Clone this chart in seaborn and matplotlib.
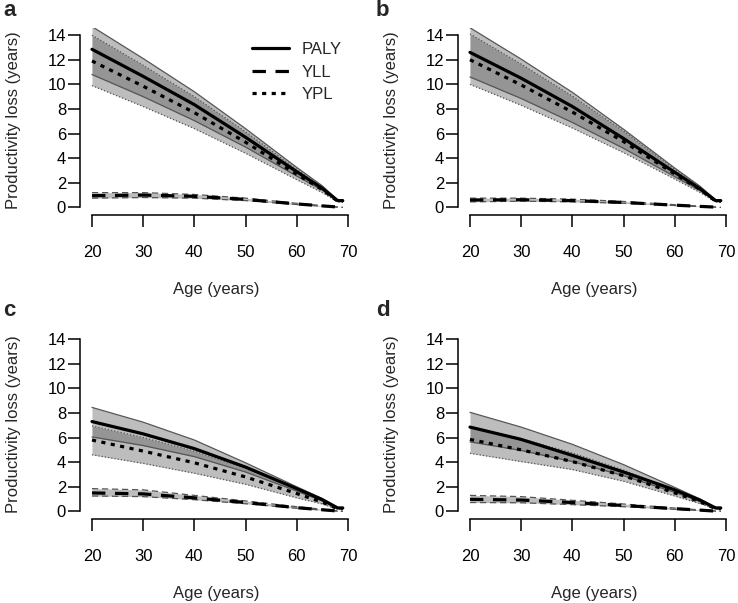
"""
Productivity loss (PALY / YLL / YPL) by age, four panels a-d.
Lines = central estimate, grey bands = uncertainty interval.
"""

import matplotlib
matplotlib.use("Agg")
import matplotlib.pyplot as plt
from matplotlib.lines import Line2D
import pandas as pd
import seaborn as sns


AGES = [20, 30, 40, 50, 60, 65, 68, 69]
MEASURES = ["PALY", "YLL", "YPL"]
PANELS = ["a", "b", "c", "d"]
Y_TICKS = [0, 2, 4, 6, 8, 10, 12, 14]
X_TICKS = [20, 30, 40, 50, 60, 70]

# panel a
a_paly = [12.85, 10.65, 8.35, 5.7, 2.9, 1.55, 0.55, 0.55]
a_paly_lo = [10.8, 9.0, 7.05, 4.9, 2.55, 1.4, 0.5, 0.5]
a_paly_hi = [14.7, 12.1, 9.4, 6.4, 3.25, 1.75, 0.6, 0.6]
a_ypl = [11.9, 9.85, 7.7, 5.3, 2.7, 1.45, 0.5, 0.5]
a_ypl_lo = [9.9, 8.2, 6.4, 4.4, 2.25, 1.2, 0.45, 0.45]
a_ypl_hi = [14.0, 11.55, 9.0, 6.15, 3.1, 1.65, 0.55, 0.55]
a_yll = [0.95, 1.0, 0.9, 0.65, 0.28, 0.12, 0.03, 0.0]
a_yll_lo = [0.75, 0.8, 0.75, 0.55, 0.23, 0.09, 0.02, 0.0]
a_yll_hi = [1.2, 1.2, 1.05, 0.75, 0.33, 0.15, 0.04, 0.0]

# panel b
b_paly = [12.6, 10.5, 8.2, 5.6, 2.85, 1.5, 0.55, 0.55]
b_paly_lo = [10.6, 8.85, 6.9, 4.8, 2.5, 1.35, 0.5, 0.5]
b_paly_hi = [14.6, 12.05, 9.35, 6.35, 3.2, 1.7, 0.6, 0.6]
b_ypl = [12.0, 9.95, 7.75, 5.35, 2.72, 1.45, 0.5, 0.5]
b_ypl_lo = [10.0, 8.3, 6.45, 4.45, 2.3, 1.2, 0.45, 0.45]
b_ypl_hi = [14.1, 11.65, 9.05, 6.2, 3.1, 1.65, 0.55, 0.55]
b_yll = [0.6, 0.62, 0.55, 0.4, 0.18, 0.08, 0.02, 0.0]
b_yll_lo = [0.45, 0.5, 0.45, 0.33, 0.15, 0.06, 0.02, 0.0]
b_yll_hi = [0.75, 0.75, 0.67, 0.48, 0.22, 0.1, 0.03, 0.0]

# panel c
c_paly = [7.3, 6.3, 5.1, 3.6, 1.85, 0.95, 0.28, 0.28]
c_paly_lo = [6.05, 5.35, 4.45, 3.2, 1.65, 0.85, 0.25, 0.25]
c_paly_hi = [8.45, 7.25, 5.8, 3.95, 2.0, 1.05, 0.3, 0.3]
c_ypl = [5.8, 4.9, 3.95, 2.8, 1.45, 0.75, 0.22, 0.22]
c_ypl_lo = [4.6, 3.9, 3.1, 2.2, 1.1, 0.6, 0.18, 0.18]
c_ypl_hi = [6.95, 6.0, 4.9, 3.5, 1.8, 0.92, 0.27, 0.27]
c_yll = [1.5, 1.42, 1.1, 0.72, 0.3, 0.13, 0.03, 0.0]
c_yll_lo = [1.25, 1.2, 0.95, 0.62, 0.25, 0.1, 0.02, 0.0]
c_yll_hi = [1.85, 1.75, 1.3, 0.85, 0.38, 0.17, 0.04, 0.0]

# panel d
d_paly = [6.85, 5.85, 4.55, 3.2, 1.75, 0.9, 0.28, 0.28]
d_paly_lo = [5.65, 4.95, 4.05, 2.9, 1.55, 0.8, 0.25, 0.25]
d_paly_hi = [8.05, 6.85, 5.45, 3.8, 1.95, 1.0, 0.3, 0.3]
d_ypl = [5.85, 5.0, 4.05, 2.9, 1.5, 0.78, 0.22, 0.22]
d_ypl_lo = [4.72, 4.05, 3.4, 2.45, 1.25, 0.62, 0.18, 0.18]
d_ypl_hi = [6.9, 5.9, 4.75, 3.35, 1.75, 0.9, 0.27, 0.27]
d_yll = [0.98, 0.92, 0.72, 0.48, 0.22, 0.1, 0.02, 0.0]
d_yll_lo = [0.72, 0.7, 0.55, 0.38, 0.17, 0.07, 0.02, 0.0]
d_yll_hi = [1.3, 1.2, 0.9, 0.6, 0.27, 0.12, 0.03, 0.0]

SERIES = {
    "a": {"PALY": (a_paly, a_paly_lo, a_paly_hi), "YLL": (a_yll, a_yll_lo, a_yll_hi), "YPL": (a_ypl, a_ypl_lo, a_ypl_hi)},
    "b": {"PALY": (b_paly, b_paly_lo, b_paly_hi), "YLL": (b_yll, b_yll_lo, b_yll_hi), "YPL": (b_ypl, b_ypl_lo, b_ypl_hi)},
    "c": {"PALY": (c_paly, c_paly_lo, c_paly_hi), "YLL": (c_yll, c_yll_lo, c_yll_hi), "YPL": (c_ypl, c_ypl_lo, c_ypl_hi)},
    "d": {"PALY": (d_paly, d_paly_lo, d_paly_hi), "YLL": (d_yll, d_yll_lo, d_yll_hi), "YPL": (d_ypl, d_ypl_lo, d_ypl_hi)},
}

filas = []
for p in PANELS:
    for m in MEASURES:
        media, lo, hi = SERIES[p][m]
        for edad, v, l, h in zip(AGES, media, lo, hi):
            filas.append({"panel": p, "measure": m, "age": edad, "value": v, "lo": l, "hi": h})
df = pd.DataFrame(filas)

# estilos de linea (a lo R: lty 1 / 2 / 3)
DASHES = {"PALY": "", "YLL": (4.2, 3.0), "YPL": (1.3, 1.7)}
BORDE = {"PALY": "-", "YLL": (0, (5, 3)), "YPL": (0, (1, 1.6))}
RELLENO = "#5a5a5a"
GRIS_BORDE = "#555555"
FS = 12

sns.set_theme(style="ticks")
plt.rcParams["font.family"] = ["Liberation Sans", "DejaVu Sans"]

W, H = 738, 603
fig = plt.figure(figsize=(W / 100, H / 100), dpi=100)

# (left, top, bottom) en pixeles de cada panel
POSICION = {"a": (80, 28, 215), "b": (458, 28, 215), "c": (80, 332, 519), "d": (458, 332, 519)}
ANCHO = 273
ETIQUETA_XY = {"a": (3, 16), "b": (376, 16), "c": (3, 316), "d": (376, 316)}

for p in PANELS:
    left, top, bottom = POSICION[p]
    ax = fig.add_axes([left / W, 1 - bottom / H, ANCHO / W, (bottom - top) / H])
    sub = df[df["panel"] == p]

    for m in MEASURES:
        s = sub[sub["measure"] == m]
        ax.fill_between(s["age"], s["lo"], s["hi"], color=RELLENO, alpha=0.4, linewidth=0)
        ax.plot(s["age"], s["lo"], color=GRIS_BORDE, lw=0.9, ls=BORDE[m])
        ax.plot(s["age"], s["hi"], color=GRIS_BORDE, lw=0.9, ls=BORDE[m])

    sns.lineplot(data=sub, x="age", y="value", style="measure", style_order=MEASURES,
                 dashes=DASHES, color="black", linewidth=2.3, errorbar=None,
                 legend=False, ax=ax)

    ax.set_xlim(17.66, 71.0)
    ax.set_ylim(-0.62, 14.58)
    ax.set_xticks(X_TICKS)
    ax.set_yticks(Y_TICKS)
    ax.set_yticklabels([str(t) for t in Y_TICKS])
    sns.despine(ax=ax)
    ax.spines["left"].set_bounds(0, 14)
    ax.spines["bottom"].set_bounds(20, 70)
    for lado in ["left", "bottom"]:
        ax.spines[lado].set_linewidth(1.1)
        ax.spines[lado].set_color("black")
    ax.tick_params(axis="both", direction="out", length=8.5, width=1.1, labelsize=FS,
                   colors="black")
    ax.tick_params(axis="x", pad=13)
    ax.tick_params(axis="y", pad=1.5)

    ax.set_xlabel("Age (years)", fontsize=FS)
    ax.xaxis.set_label_coords(0.5, -0.36)
    ax.set_ylabel("Productivity loss (years)", fontsize=FS)
    ax.yaxis.set_label_coords(-0.215, 0.51)

    if p == "a":
        manejadores = [Line2D([0], [0], color="black", lw=2.3, ls="-"),
                       Line2D([0], [0], color="black", lw=2.3, ls=(0, DASHES["YLL"])),
                       Line2D([0], [0], color="black", lw=2.3, ls=(0, DASHES["YPL"]))]
        ax.legend(manejadores, MEASURES, loc="upper left", bbox_to_anchor=(0.63, 0.925),
                  frameon=False, fontsize=FS, handlelength=2.2, handletextpad=0.8,
                  labelspacing=0.45, borderaxespad=0, borderpad=0)

    lx, ly = ETIQUETA_XY[p]
    fig.text(lx / W, 1 - ly / H, p, fontsize=16, fontweight="bold", ha="left", va="baseline")

fig.savefig("out.png", dpi=100)
